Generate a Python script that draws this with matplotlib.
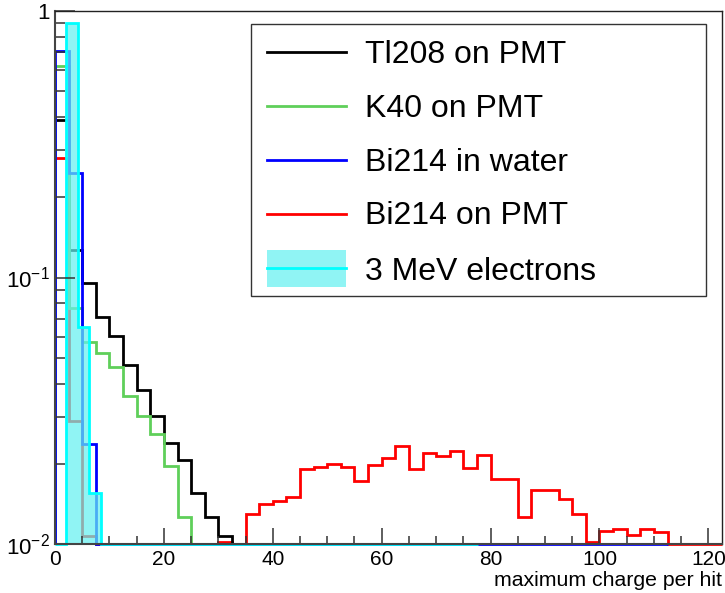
import numpy as np
import matplotlib
matplotlib.use("Agg")
import matplotlib.pyplot as plt
from matplotlib.ticker import MultipleLocator, FixedLocator, NullFormatter
from matplotlib.patches import Rectangle
from matplotlib.lines import Line2D

plt.rcParams['font.family'] = ['Liberation Sans', 'DejaVu Sans']
plt.rcParams['mathtext.fontset'] = 'custom'
plt.rcParams['mathtext.rm'] = 'Liberation Sans'
plt.rcParams['mathtext.it'] = 'Liberation Sans:italic'
plt.rcParams['mathtext.bf'] = 'Liberation Sans:bold'
plt.rcParams['hatch.linewidth'] = 1.0
plt.rcParams['hatch.color'] = '#00d8d8'

# normalised histograms, bin width 2.5 (cyan one uses 2.1)
bin_w = 2.5
bin_w_e = 2.1

tl208_pmt = [0.39, 0.127, 0.0956, 0.0713, 0.0603, 0.0469, 0.0378, 0.0302, 0.0239,
             0.0206, 0.0156, 0.0126, 0.0107, 0, 0, 0, 0, 0, 0, 0]
k40_pmt = [0.62, 0.077, 0.0574, 0.052, 0.046, 0.0359, 0.0302, 0.0259, 0.0197, 0.0126,
           0, 0, 0, 0, 0, 0, 0, 0, 0, 0]
bi214_water = [0.708, 0.247, 0.0237] + [0] * 42
bi214_pmt = [0.28, 0.029, 0.0107, 0, 0, 0, 0, 0, 0, 0, 0, 0, 0.0102, 0,
             0.0130, 0.0141, 0.01456, 0.01496, 0.0192, 0.0195, 0.0199, 0.0194,
             0.0172, 0.0198, 0.0210, 0.0233, 0.0192, 0.0219, 0.0213, 0.0223,
             0.0193, 0.0215, 0.0176, 0.0176, 0.01266, 0.0159, 0.0159, 0.01475,
             0.01296, 0.0102, 0.0112, 0.01138, 0.0108, 0.0114, 0.0111, 0, 0, 0, 0]
electrons_3mev = [0, 0.9, 0.0654, 0.0155] + [0] * 33

labels = ['Tl208 on PMT', 'K40 on PMT', 'Bi214 in water', 'Bi214 on PMT', '3 MeV electrons']
colors = ['#000000', '#5fcf5a', '#0000ff', '#ff0000', '#00ffff']
fill_col = (0.40, 0.94, 0.94, 0.72)

ymin, ymax = 0.01, 1.0
xmax = 122.5

W, H = 725, 593
fig = plt.figure(figsize=(W / 100, H / 100), dpi=100)
ax = fig.add_axes([55 / W, 1 - 544 / H, (722 - 55) / W, (544 - 11) / H])
ax.set_yscale('log')


def draw(vals, width, col, lw=2.0):
    v = np.array(vals, dtype=float)
    v = np.where(v > 0, v, ymin)   # empty bins sit on the floor like in ROOT
    edges = np.arange(len(v) + 1) * width
    ax.stairs(v, edges, baseline=ymin, color=col, lw=lw, clip_on=False)
    return v, edges


# drawing order as in the original canvas
draw(bi214_pmt, bin_w, colors[3])
draw(tl208_pmt, bin_w, colors[0])
draw(k40_pmt, bin_w, colors[1])
draw(bi214_water, bin_w, colors[2])
v = np.array(electrons_3mev, dtype=float)
v = np.where(v > 0, v, ymin)
e = np.arange(len(v) + 1) * bin_w_e
ax.stairs(v, e, baseline=ymin, fill=True, facecolor=fill_col, edgecolor='none',
          lw=0, hatch='....')
ax.stairs(v, e, baseline=ymin, color=colors[4], lw=2.0, clip_on=False)

ax.set_xlim(0, xmax)
ax.set_ylim(ymin, ymax)

ax.xaxis.set_major_locator(MultipleLocator(20))
ax.xaxis.set_minor_locator(MultipleLocator(5))
ax.yaxis.set_major_locator(FixedLocator([0.01, 0.1, 1]))
ax.yaxis.set_minor_locator(FixedLocator([k * 10.0 ** d for d in (-2, -1) for k in range(2, 10)]))
ax.yaxis.set_minor_formatter(NullFormatter())
ax.set_yticklabels([r'$10^{-2}$', r'$10^{-1}$', '1'])

ax.tick_params(axis='x', which='major', direction='in', length=11.5, width=1.1,
               color='#333333', labelsize=15, pad=4)
ax.tick_params(axis='x', which='minor', direction='in', length=5.8, width=1.1, color='#333333')
ax.tick_params(axis='y', which='major', direction='in', length=14.4, width=1.1,
               color='#333333', labelsize=16, pad=4)
ax.tick_params(axis='y', which='minor', direction='in', length=7.2, width=1.1, color='#333333')
for s in ['top', 'right']:
    ax.spines[s].set_linewidth(1.0)
    ax.spines[s].set_color('#222222')
for s in ['left', 'bottom']:
    ax.spines[s].set_linewidth(1.5)
    ax.spines[s].set_color('#444444')

fig.text(722 / W, 1 - 586.5 / H, 'maximum charge per hit', ha='right', va='baseline',
         fontsize=15.3)


# legend drawn by hand to match the ROOT TLegend box
def px(x, y):
    return x / W, 1 - y / H


x0, y0 = px(251, 296)
x1, y1 = px(706, 24)
fig.patches.append(Rectangle((x0, y0), x1 - x0, y1 - y0, transform=fig.transFigure,
                             facecolor='white', edgecolor='#333333', lw=1.0))
rows = [52, 106, 160, 213.5, 268.5]
for lab, col, yr in zip(labels, colors, rows):
    if lab == '3 MeV electrons':
        rx0, ry0 = px(267, 287)
        rx1, ry1 = px(346, 249.5)
        fig.patches.append(Rectangle((rx0, ry0), rx1 - rx0, ry1 - ry0,
                                     transform=fig.transFigure, facecolor=fill_col,
                                     edgecolor='none', hatch='....'))
    lx0, ly = px(267, yr)
    lx1, _ = px(346, yr)
    fig.lines.append(Line2D([lx0, lx1], [ly, ly], transform=fig.transFigure,
                            color=col, lw=2.0))
    tx, ty = px(365, yr + 11)
    fig.text(tx, ty, lab, ha='left', va='baseline', fontsize=23)

fig.savefig('out.png', dpi=100)
